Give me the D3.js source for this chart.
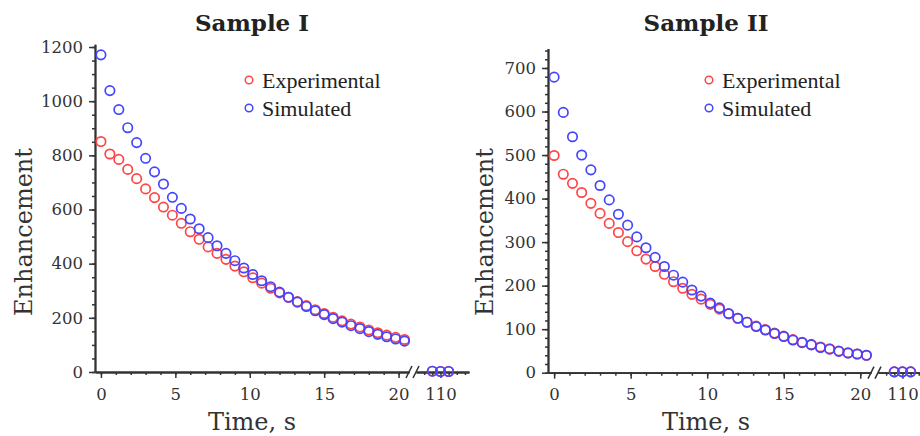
<!DOCTYPE html>
<html>
<head>
<meta charset="utf-8">
<script src="https://cdn.jsdelivr.net/npm/d3@7"></script>
<style>
  body { margin: 0; background: #fff; }
  svg { display: block; }
</style>
</head>
<body>
<svg id="svg" width="920" height="436"></svg>
<script>
// time points (s), same for both samples
const times = [0, 0.6, 1.2, 1.8, 2.4, 3.0, 3.6, 4.2, 4.8, 5.4, 6.0, 6.6, 7.2, 7.8, 8.4, 9.0,
    9.6, 10.2, 10.8, 11.4, 12.0, 12.6, 13.2, 13.8, 14.4, 15.0, 15.6, 16.2, 16.8, 17.4, 18.0,
    18.6, 19.2, 19.8, 20.4]
// points past the axis break
const tailTimes = [109, 110, 111]

// Sample I
const expI = [851, 805, 785, 748, 714, 676, 644, 609, 579, 549, 518, 490, 462, 438, 416, 391,
    370, 348, 328, 309, 292, 276, 260, 245, 230, 216, 202, 189, 177, 166, 155, 145, 136, 128, 120]
const simI = [1171, 1039, 969, 902, 847, 789, 739, 694, 645, 604, 565, 529, 496, 466, 438, 411,
    384, 360, 337, 315, 295, 276, 258, 242, 226, 212, 197, 184, 171, 160, 149, 139, 130, 122, 114]
const tailExpI = [3, 2, 2]
const tailSimI = [3, 2, 2]

// Sample II
const expII = [499, 456, 435, 414, 389, 366, 343, 322, 301, 280, 261, 244, 226, 209, 194, 180,
    169, 157, 146, 135, 125, 116, 107, 99, 91, 84, 76, 70, 65, 59, 55, 50, 46, 43, 40]
const simII = [679, 598, 542, 500, 466, 430, 397, 364, 339, 312, 287, 265, 244, 224, 208, 190,
    176, 160, 149, 136, 125, 116, 106, 98, 90, 83, 75, 69, 64, 58, 54, 49, 45, 43, 40]
const tailExpII = [2, 2, 2]
const tailSimII = [2, 2, 2]

const yTicksI = [0, 200, 400, 600, 800, 1000, 1200]
const yTicksII = [0, 100, 200, 300, 400, 500, 600, 700]
const xTicks = [0, 5, 10, 15, 20]
const tailTicks = [110]

const titles = ["Sample I", "Sample II"]
const seriesNames = ["Experimental", "Simulated"]

const RED = "#ff4545"
const BLUE = "#4545ff"
const INK = "#333"
const serif = "DejaVu Serif, serif"
const fmt = d3.format("d")

const svg = d3.select("#svg")

function styleAxis(g, size) {
    g.attr("font-family", serif).attr("font-size", size)
    g.select(".domain").attr("stroke", INK).attr("stroke-width", 1.8)
    g.selectAll(".tick line").attr("stroke", INK).attr("stroke-width", 1.5)
    g.selectAll(".tick text")
        .attr("fill", INK)
        .style("font-family", serif)
        .style("font-size", size + "px")
}

const drawPanel = (cfg) => {
    const x = d3.scaleLinear().domain([-0.4, 20.7]).range([cfg.left, cfg.brk])
    const xt = d3.scaleLinear().domain([107, 113.5]).range([cfg.brk + 7, cfg.brk + 60])
    const y = d3.scaleLinear().domain([0, cfg.yMax]).range([cfg.bottom, cfg.top])

    // y axis, minor then major
    svg.append("g")
        .attr("transform", `translate(${cfg.left},0)`)
        .call(d3.axisLeft(y).tickValues(d3.range(0, cfg.yMax, cfg.yMinor)).tickSize(3).tickSizeOuter(0).tickFormat(""))
        .call(g => styleAxis(g, 16.5))
    svg.append("g")
        .attr("transform", `translate(${cfg.left},0)`)
        .call(d3.axisLeft(y).tickValues(cfg.yTicks).tickFormat(fmt).tickSize(6).tickSizeOuter(0).tickPadding(6))
        .call(g => styleAxis(g, 16.5))

    // x axis main segment
    svg.append("g")
        .attr("transform", `translate(0,${cfg.bottom})`)
        .call(d3.axisBottom(x).tickValues(d3.range(0, 21, 1)).tickSize(3).tickSizeOuter(0).tickFormat(""))
        .call(g => styleAxis(g, 16.5))
    svg.append("g")
        .attr("transform", `translate(0,${cfg.bottom})`)
        .call(d3.axisBottom(x).tickValues(xTicks).tickFormat(fmt).tickSize(6).tickSizeOuter(0).tickPadding(10))
        .call(g => styleAxis(g, 16.5))

    // x axis after the break
    svg.append("g")
        .attr("transform", `translate(0,${cfg.bottom})`)
        .call(d3.axisBottom(xt).tickValues([108, 109, 111, 112, 113]).tickSize(3).tickSizeOuter(0).tickFormat(""))
        .call(g => styleAxis(g, 16.5))
    svg.append("g")
        .attr("transform", `translate(0,${cfg.bottom})`)
        .call(d3.axisBottom(xt).tickValues(tailTicks).tickFormat(fmt).tickSize(6).tickSizeOuter(0).tickPadding(10))
        .call(g => styleAxis(g, 16.5))

    // break marks
    svg.append("g").selectAll("line")
        .data([cfg.brk, cfg.brk + 7])
        .enter().append("line")
            .attr("x1", d => d - 3).attr("y1", cfg.bottom + 6)
            .attr("x2", d => d + 3).attr("y2", cfg.bottom - 6)
            .attr("stroke", INK).attr("stroke-width", 1.5)

    // markers: experimental first, simulated on top
    const series = [
        {vals: cfg.exp, tail: cfg.tailExp, color: RED},
        {vals: cfg.sim, tail: cfg.tailSim, color: BLUE}
    ]
    series.forEach(s => {
        const g = svg.append("g")
        g.selectAll("circle.main").data(s.vals)
            .enter().append("circle")
                .attr("class", "main")
                .attr("cx", (d, i) => x(times[i]))
                .attr("cy", d => y(d))
                .attr("r", 4.7)
                .attr("fill", "none")
                .attr("stroke", s.color)
                .attr("stroke-width", 1.7)
        g.selectAll("circle.tail").data(s.tail)
            .enter().append("circle")
                .attr("class", "tail")
                .attr("cx", (d, i) => xt(tailTimes[i]))
                .attr("cy", d => y(d))
                .attr("r", 4.7)
                .attr("fill", "none")
                .attr("stroke", s.color)
                .attr("stroke-width", 1.7)
    })

    // title
    svg.append("text")
        .attr("x", cfg.titleX).attr("y", 31)
        .attr("text-anchor", "middle")
        .attr("font-family", serif).attr("font-weight", "bold").attr("font-size", 23)
        .attr("fill", "#222")
        .text(cfg.title)

    // axis titles
    svg.append("text")
        .attr("transform", `translate(${cfg.yLabelX},232) rotate(-90)`)
        .attr("text-anchor", "middle")
        .attr("font-family", serif).attr("font-size", 24)
        .attr("fill", "#333")
        .text("Enhancement")
    svg.append("text")
        .attr("x", cfg.titleX).attr("y", 430)
        .attr("text-anchor", "middle")
        .attr("font-family", serif).attr("font-size", 24)
        .attr("fill", "#333")
        .text("Time, s")

    // legend
    const leg = svg.append("g").attr("transform", `translate(${cfg.legX},0)`)
    leg.selectAll("circle").data(seriesNames)
        .enter().append("circle")
            .attr("cx", 0).attr("cy", (d, i) => 80 + i * 28)
            .attr("r", 3.8)
            .attr("fill", "none")
            .attr("stroke", (d, i) => i === 0 ? RED : BLUE)
            .attr("stroke-width", 1.5)
    leg.selectAll("text").data(seriesNames)
        .enter().append("text")
            .attr("x", 13).attr("y", (d, i) => 88 + i * 28)
            .attr("font-family", "Liberation Serif, serif").attr("font-size", 22)
            .attr("fill", "#222")
            .text(d => d)
}

drawPanel({
    title: titles[0], left: 95, brk: 409, top: 44.3, bottom: 372, yMax: 1210, yMinor: 50,
    yTicks: yTicksI, exp: expI, sim: simI, tailExp: tailExpI, tailSim: tailSimI,
    titleX: 252, yLabelX: 32, legX: 249
})
drawPanel({
    title: titles[1], left: 548, brk: 871, top: 48.4, bottom: 372.7, yMax: 745, yMinor: 20,
    yTicks: yTicksII, exp: expII, sim: simII, tailExp: tailExpII, tailSim: tailSimII,
    titleX: 706, yLabelX: 493, legX: 709
})
</script>
</body>
</html>
